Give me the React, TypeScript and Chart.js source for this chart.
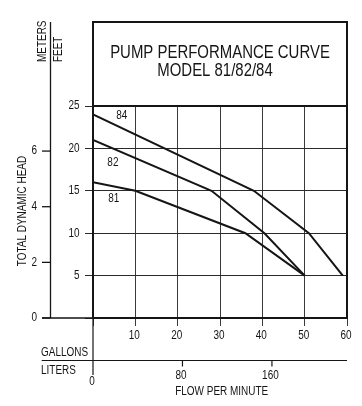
import React, { useEffect, useRef } from "react";
import { Chart, registerables } from "chart.js";

Chart.register(...registerables);

// ---- data ----
const gallonTicks = [0, 10, 20, 30, 40, 50, 60];
const feetTicks = [0, 5, 10, 15, 20, 25];
const meterTicks = [0, 2, 4, 6];
const literTicks = [0, 80, 160];

const model84Gallons = [0, 38, 51, 59];
const model84Feet = [24, 15, 10, 5];
const model82Gallons = [0, 28, 40.5, 50];
const model82Feet = [21, 15, 10, 5];
const model81Gallons = [0, 10, 36, 50];
const model81Feet = [16, 15, 10, 5];

const seriesLabels = ["84", "82", "81"];
const labelGallons = [6.8, 4.7, 4.9];
const labelFeet = [23.8, 18.3, 14.1];

const titleLines = ["PUMP PERFORMANCE CURVE", "MODEL 81/82/84"];
const axisTexts = ["TOTAL DYNAMIC HEAD", "METERS", "FEET", "GALLONS", "LITERS", "FLOW PER MINUTE"];

const FT_PER_M = 1 / 0.3048;
const L_PER_GAL = 3.78541;

const FONT = "'Liberation Sans Narrow','Arial Narrow','Liberation Sans',Arial,sans-serif";
const INK = "#151515";
const SX = 0.83; // horizontal condensing to mimic a narrow face

const toPoints = (xs: number[], ys: number[]) => xs.map((v, i) => ({ x: v, y: ys[i] }));

function txt(
  ctx: CanvasRenderingContext2D,
  t: string,
  px: number,
  py: number,
  align: CanvasTextAlign,
  size: number,
  rotate = false
) {
  ctx.save();
  ctx.translate(px, py);
  if (rotate) ctx.rotate(-Math.PI / 2);
  ctx.scale(SX, 1);
  ctx.font = `${size}px ${FONT}`;
  ctx.textAlign = align;
  ctx.textBaseline = "middle";
  ctx.fillText(t, 0, 0);
  ctx.restore();
}

const overlay = {
  id: "overlay",
  afterDraw(chart: any) {
    const { ctx, chartArea: a, scales } = chart;
    const x = scales.x;
    const y = scales.y;
    ctx.save();
    ctx.strokeStyle = INK;
    ctx.fillStyle = INK;
    const boxTop = 22;

    // frame + title box
    ctx.lineWidth = 2;
    ctx.strokeRect(a.left, boxTop, a.right - a.left, a.bottom - boxTop);
    ctx.beginPath();
    ctx.moveTo(a.left, a.top);
    ctx.lineTo(a.right, a.top);
    ctx.stroke();

    const cx = (a.left + a.right) / 2;
    txt(ctx, titleLines[0], cx, 53.5, "center", 18);
    txt(ctx, titleLines[1], cx - 5, 71, "center", 18);

    // gallons tick labels (library scale ticks)
    x.ticks.forEach((t: any) => {
      if (t.value === 0) return;
      txt(ctx, String(t.value), x.getPixelForValue(t.value) - 1, 336, "center", 12);
    });
    // feet tick labels
    y.ticks.forEach((t: any) => {
      if (t.value === 0) return;
      txt(ctx, String(t.value), 79.5, y.getPixelForValue(t.value), "right", 12);
    });

    // meters axis
    const mx = 50.5;
    ctx.lineWidth = 1.3;
    ctx.beginPath();
    ctx.moveTo(mx, boxTop);
    ctx.lineTo(mx, a.bottom);
    ctx.moveTo(42, a.bottom);
    ctx.lineTo(a.left, a.bottom);
    ctx.stroke();
    meterTicks.forEach((m) => {
      const py = y.getPixelForValue(m * FT_PER_M);
      ctx.beginPath();
      ctx.moveTo(42, py);
      ctx.lineTo(mx, py);
      ctx.stroke();
      txt(ctx, String(m), 37, py, "right", 12);
    });

    // rotated axis texts
    txt(ctx, axisTexts[0], 22.7, 211, "center", 12, true);
    txt(ctx, axisTexts[1], 42.5, 62, "left", 12, true);
    txt(ctx, axisTexts[2], 58.5, 62, "left", 12, true);

    // series labels
    seriesLabels.forEach((s, i) => {
      txt(ctx, s, x.getPixelForValue(labelGallons[i]), y.getPixelForValue(labelFeet[i]), "center", 12);
    });

    // zero-flow line below chart
    ctx.lineWidth = 1.2;
    ctx.beginPath();
    ctx.moveTo(a.left, a.bottom);
    ctx.lineTo(a.left, 375);
    ctx.stroke();

    // liters axis
    const ly = 360.5;
    ctx.beginPath();
    ctx.moveTo(41.7, ly);
    ctx.lineTo(a.right, ly);
    ctx.stroke();
    literTicks.forEach((l) => {
      const px = x.getPixelForValue(l / L_PER_GAL);
      if (l !== 0) {
        ctx.beginPath();
        ctx.moveTo(px, ly);
        ctx.lineTo(px, ly + 6);
        ctx.stroke();
        txt(ctx, String(l), px - 1.5, 376, "center", 12);
      } else {
        txt(ctx, String(l), px - 1, 381.5, "center", 12);
      }
    });

    txt(ctx, axisTexts[3], 41, 352.5, "left", 12);
    txt(ctx, axisTexts[4], 41, 371, "left", 12);
    txt(ctx, axisTexts[5], 221.7, 392, "center", 12);
    ctx.restore();
  },
};

export default function App() {
  const ref = useRef<HTMLCanvasElement | null>(null);
  useEffect(() => {
    if (!ref.current) return;
    const line = { borderColor: INK, borderWidth: 2, pointRadius: 0, showLine: true, fill: false, tension: 0 };
    const chart = new Chart(ref.current, {
      type: "scatter",
      data: {
        datasets: [
          { label: seriesLabels[0], data: toPoints(model84Gallons, model84Feet), ...line },
          { label: seriesLabels[1], data: toPoints(model82Gallons, model82Feet), ...line },
          { label: seriesLabels[2], data: toPoints(model81Gallons, model81Feet), ...line },
        ],
      },
      options: {
        responsive: false,
        maintainAspectRatio: false,
        animation: false,
        layout: { padding: { top: 106, right: 15, left: 0, bottom: 0 } },
        plugins: { legend: { display: false }, tooltip: { enabled: false } },
        scales: {
          x: {
            type: "linear",
            min: 0,
            max: 60,
            afterBuildTicks: (s: any) => {
              s.ticks = gallonTicks.map((v) => ({ value: v }));
            },
            ticks: { display: false, autoSkip: false },
            grid: { color: "#3a3a3a", lineWidth: 1, tickLength: 8, drawTicks: true },
            border: { display: true, color: INK, width: 2 },
            afterFit: (s: any) => {
              s.height = 88;
            },
          },
          y: {
            type: "linear",
            min: 0,
            max: 25,
            afterBuildTicks: (s: any) => {
              s.ticks = feetTicks.map((v) => ({ value: v }));
            },
            ticks: { display: false },
            grid: { color: "#2a2a2a", lineWidth: 1, tickLength: 8, drawTicks: true },
            border: { display: true, color: INK, width: 2 },
            afterFit: (s: any) => {
              s.width = 93;
            },
          },
        },
      },
      plugins: [overlay],
    });
    return () => chart.destroy();
  }, []);
  return (
    <div style={{ position: "absolute", left: 0, top: 0, width: 362, height: 406, background: "#fff" }}>
      <canvas ref={ref} width={362} height={406} style={{ display: "block" }} />
    </div>
  );
}
